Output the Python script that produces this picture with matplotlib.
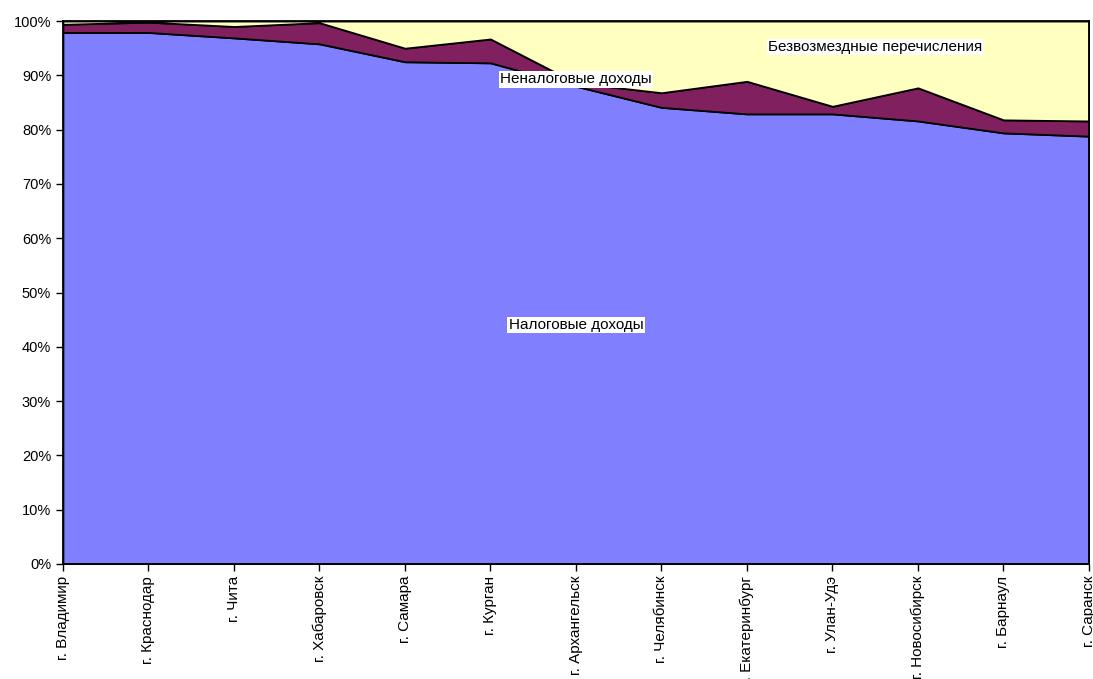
"""100% stacked area chart of city budget revenue structure."""

import matplotlib

matplotlib.use("Agg")
import matplotlib.pyplot as plt
import numpy as np

plt.rcParams["font.family"] = ["Liberation Sans", "DejaVu Sans"]

cities = [
    "г. Владимир", "г. Краснодар", "г. Чита", "г. Хабаровск", "г. Самара",
    "г. Курган", "г. Архангельск", "г. Челябинск", "г. Екатеринбург",
    "г. Улан-Удэ", "г. Новосибирск", "г. Барнаул", "г. Саранск",
]
# shares, %
tax_income = [97.9, 97.9, 96.9, 95.8, 92.5, 92.3, 88.0, 84.1, 82.9, 82.9, 81.6, 79.4, 78.8]
nontax_income = [1.5, 1.9, 2.1, 3.9, 2.5, 4.4, 0.6, 2.7, 6.0, 1.4, 6.1, 2.4, 2.8]
transfers = [100 - t - n for t, n in zip(tax_income, nontax_income)]

fig = plt.figure(figsize=(10.93, 6.79), dpi=100)
ax = fig.add_axes([0.0576, 0.1694, 0.9387, 0.7996])

x = np.arange(len(cities))
ax.stackplot(
    x, tax_income, nontax_income, transfers,
    colors=["#8080FF", "#80205F", "#FFFFC0"],
    edgecolor="black", linewidth=1.3,
)

ax.set_xlim(0, len(cities) - 1)
ax.set_ylim(0, 100)
ax.set_yticks(np.arange(0, 101, 10))
ax.set_yticklabels([f"{v}%" for v in range(0, 101, 10)], fontsize=10.5)
ax.set_xticks(x)
ax.set_xticklabels(cities, rotation=90, fontsize=11)
ax.tick_params(direction="out", length=5, width=1, color="black")
for spine in ax.spines.values():
    spine.set_linewidth(1.3)

box = dict(facecolor="white", edgecolor="none", pad=1)
ax.text(6.0, 44.0, "Налоговые доходы", ha="center", va="center", fontsize=11, bbox=box)
ax.text(6.0, 89.3, "Неналоговые доходы", ha="center", va="center", fontsize=11, bbox=box)
ax.text(9.5, 95.2, "Безвозмездные перечисления", ha="center", va="center", fontsize=11, bbox=box)

fig.savefig("out.png", dpi=100)
